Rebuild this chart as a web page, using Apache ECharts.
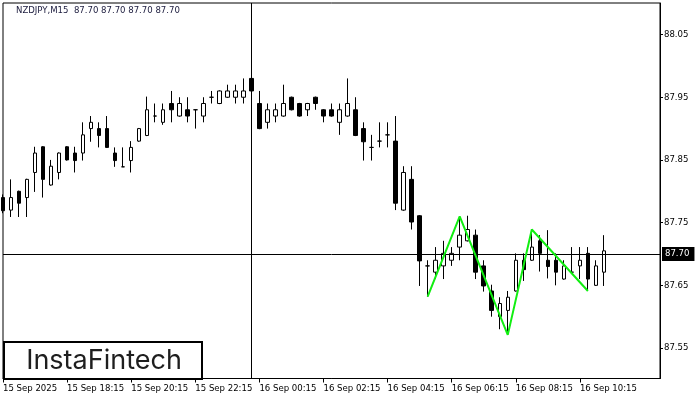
<!DOCTYPE html>
<html><head><meta charset="utf-8">
<script src="https://cdn.jsdelivr.net/npm/echarts@6/dist/echarts.min.js"></script>
<style>html,body{margin:0;padding:0;background:#fff}#c{width:700px;height:400px}</style>
</head><body><div id="c"></div>
<script>
const symbolName = 'NZDJPY,M15';
const opens = [87.790,87.770,87.800,87.790,87.830,87.871,87.810,87.830,87.871,87.861,
  87.861,87.900,87.900,87.900,87.861,87.839,87.849,87.880,87.889,87.920,
  87.910,87.940,87.920,87.930,87.930,87.920,87.950,87.940,87.950,87.950,
  87.950,87.980,87.940,87.910,87.920,87.920,87.950,87.940,87.930,87.950,
  87.930,87.930,87.910,87.920,87.930,87.900,87.870,87.880,87.890,87.880,
  87.770,87.819,87.761,87.681,87.671,87.681,87.690,87.711,87.721,87.730,
  87.681,87.641,87.600,87.610,87.641,87.690,87.690,87.721,87.690,87.690,
  87.660,87.671,87.681,87.701,87.650,87.671];
const closes = [87.769,87.790,87.781,87.819,87.861,87.819,87.840,87.861,87.850,87.849,
  87.890,87.910,87.889,87.870,87.849,87.839,87.870,87.900,87.930,87.920,
  87.930,87.930,87.940,87.920,87.930,87.940,87.950,87.960,87.960,87.960,
  87.960,87.960,87.900,87.930,87.930,87.940,87.930,87.920,87.940,87.940,
  87.920,87.920,87.930,87.940,87.889,87.879,87.870,87.880,87.890,87.781,
  87.830,87.751,87.689,87.681,87.690,87.701,87.701,87.730,87.739,87.671,
  87.649,87.610,87.621,87.631,87.690,87.675,87.711,87.701,87.680,87.671,
  87.681,87.671,87.690,87.660,87.681,87.705];
const lows = [87.765,87.759,87.759,87.759,87.799,87.790,87.809,87.819,87.849,87.830,
  87.849,87.879,87.870,87.869,87.839,87.839,87.830,87.879,87.888,87.910,
  87.906,87.910,87.919,87.910,87.900,87.910,87.940,87.939,87.949,87.940,
  87.940,87.959,87.899,87.900,87.910,87.919,87.929,87.919,87.920,87.930,
  87.910,87.919,87.890,87.919,87.888,87.849,87.849,87.870,87.870,87.770,
  87.769,87.739,87.649,87.632,87.660,87.660,87.681,87.690,87.720,87.660,
  87.640,87.600,87.580,87.571,87.640,87.657,87.689,87.672,87.661,87.650,
  87.659,87.670,87.660,87.642,87.649,87.649];
const highs = [87.795,87.819,87.801,87.820,87.871,87.872,87.850,87.862,87.872,87.871,
  87.910,87.920,87.910,87.920,87.870,87.870,87.880,87.901,87.951,87.940,
  87.940,87.960,87.950,87.950,87.930,87.950,87.960,87.961,87.970,87.970,
  87.980,88.020,87.960,87.940,87.940,87.970,87.951,87.941,87.941,87.951,
  87.931,87.940,87.940,87.980,87.950,87.910,87.890,87.910,87.910,87.920,
  87.840,87.840,87.762,87.690,87.711,87.721,87.711,87.760,87.761,87.739,
  87.690,87.651,87.631,87.641,87.701,87.701,87.739,87.730,87.738,87.701,
  87.690,87.711,87.711,87.711,87.690,87.730];
const firstBar = {day: 15, month: 'Sep', hour: 16, minute: 15};
const barMinutes = 15;
const emptySlotsRight = 7;
const xTickLabels = ['15 Sep 2025','15 Sep 18:15','15 Sep 20:15','15 Sep 22:15','16 Sep 00:15',
  '16 Sep 02:15','16 Sep 04:15','16 Sep 06:15','16 Sep 08:15','16 Sep 10:15'];
const xTickEvery = 8;
const yTickValues = [87.55, 87.65, 87.75, 87.85, 87.95, 88.05];
const yMin = 87.5014, yMax = 88.1003;
const currentPrice = 87.70;
const separatorIndex = 31;
const patternIdx = [53, 57, 63, 66, 73];
const patternVal = [87.632, 87.760, 87.571, 87.739, 87.641];
const logoText = 'InstaFintech';

const nCat = opens.length + emptySlotsRight;
const categories = [];
for (let i = 0; i < nCat; i++) {
  const t = firstBar.hour * 60 + firstBar.minute + barMinutes * i;
  const d = firstBar.day + Math.floor(t / 1440);
  const m = t % 1440;
  const hh = String(Math.floor(m / 60)).padStart(2, '0');
  const mm = String(m % 60).padStart(2, '0');
  categories.push(d + ' ' + firstBar.month + ' ' + hh + ':' + mm);
}
const candles = opens.map((o, i) => [o, closes[i], lows[i], highs[i]]);
const pattern = patternIdx.map((ix, k) => [ix, patternVal[k]]);
const f2 = v => v.toFixed(2);
const axisFont = "'DejaVu Sans Condensed','DejaVu Sans',sans-serif";

const chart = echarts.init(document.getElementById('c'), null, {renderer: 'canvas'});
chart.setOption({
  animation: false,
  backgroundColor: '#fff',
  title: {
    text: symbolName + '  ' + [currentPrice, currentPrice, currentPrice, currentPrice].map(f2).join(' '),
    left: 16, top: 6, padding: 0,
    textStyle: {fontFamily: axisFont, fontSize: 9.5, fontWeight: 'normal', color: '#1a1a3c'}
  },
  grid: {left: 3, right: 40, top: 3, bottom: 21.5, show: true, borderColor: '#000', borderWidth: 1, backgroundColor: '#fff'},
  xAxis: {
    type: 'category', data: categories, boundaryGap: false,
    axisLine: {show: true, lineStyle: {color: '#000', width: 1}},
    axisTick: {show: true, length: 4, lineStyle: {color: '#000'},
      interval: (i) => i % xTickEvery === 0 && i / xTickEvery < xTickLabels.length},
    axisLabel: {
      interval: (i) => i % xTickEvery === 0 && i / xTickEvery < xTickLabels.length,
      formatter: (v, i) => xTickLabels[i / xTickEvery] || '',
      align: 'left', margin: 5, color: '#000', fontFamily: axisFont, fontSize: 9.5
    },
    splitLine: {show: false}
  },
  yAxis: {
    type: 'value', position: 'right', min: yMin, max: yMax, scale: true,
    axisLine: {show: true, lineStyle: {color: '#000', width: 1}},
    axisTick: {show: true, length: 3, customValues: yTickValues, lineStyle: {color: '#000'}},
    axisLabel: {customValues: yTickValues, formatter: v => f2(v), margin: 4, color: '#000',
      fontFamily: axisFont, fontSize: 9.5},
    splitLine: {show: false}
  },
  series: [
    {
      type: 'candlestick', data: candles, barWidth: 4, clip: true,
      itemStyle: {color: '#fff', color0: '#000', borderColor: '#000', borderColor0: '#000', borderWidth: 1},
      markLine: {
        silent: true, symbol: ['none', 'none'], animation: false,
        data: [
          {yAxis: currentPrice, lineStyle: {color: '#000', width: 1, type: 'solid'},
           label: {show: true, position: 'end', formatter: f2(currentPrice), distance: 2,
             backgroundColor: '#000', color: '#fff', padding: [2, 5, 2, 3],
             fontFamily: axisFont, fontSize: 9.5}},
          {xAxis: categories[separatorIndex], lineStyle: {color: '#000', width: 1, type: 'solid'},
           label: {show: false}}
        ]
      }
    },
    {
      type: 'line', data: pattern, symbol: 'none', z: 5,
      lineStyle: {color: '#11ee11', width: 2}
    }
  ],
  graphic: [{
    type: 'group', left: 3, top: 341,
    children: [
      {type: 'rect', shape: {x: 1, y: 0, width: 198, height: 37},
       style: {fill: '#fff', stroke: '#000', lineWidth: 2}},
      {type: 'text', x: 101, y: 19,
       style: {text: logoText, fill: '#1e1e1e', font: '400 27px Inter, sans-serif',
         textAlign: 'center', textVerticalAlign: 'middle'}}
    ]
  }]
});
</script></body></html>
